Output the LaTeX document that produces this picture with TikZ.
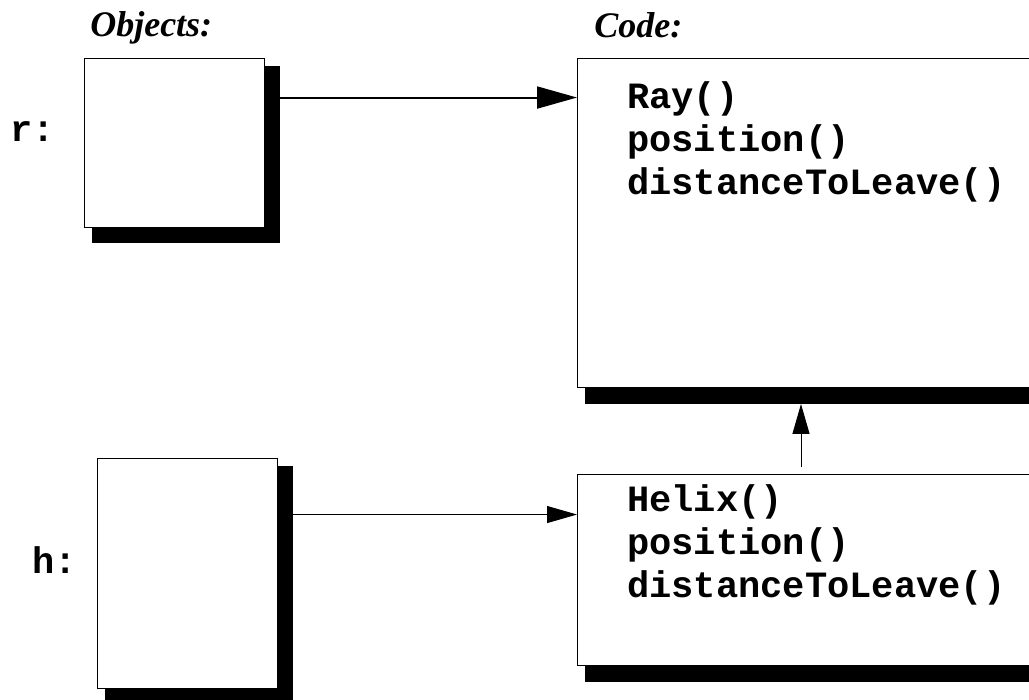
\documentclass[tikz,border=0pt]{standalone}
\usepackage{fontspec}
\setmainfont{Liberation Serif}
\setmonofont{Liberation Mono}
\usepackage{tikz}
\usetikzlibrary{arrows.meta,positioning,calc,backgrounds}
\tikzset{
  objbox/.style={draw=black,line width=0.7pt,fill=white,inner sep=0pt,minimum width=135pt},
  codebox/.style={draw=black,line width=0.7pt,fill=white,inner sep=0pt,anchor=north west,
    minimum width=362pt},
  codetext/.style={font=\fontsize{27.8}{32}\selectfont\ttfamily\bfseries,align=left,
    anchor=base west,inner sep=0pt},
  varlabel/.style={font=\fontsize{27.8}{32}\selectfont\ttfamily\bfseries,anchor=base west,inner sep=0pt},
  titlelabel/.style={font=\fontsize{27}{32}\selectfont\bfseries\itshape,anchor=base west,inner sep=0pt},
  boxshadow/.style={fill=black},
  linkarrow/.style={-{Triangle[length=30pt,width=16.5pt]},line width=1.5pt},
  thinarrow/.style={-{Triangle[length=22.5pt,width=12.75pt]},line width=0.75pt}
}

\begin{document}
\begin{tikzpicture}[x=0.75pt,y=-0.75pt]
  \useasboundingbox (0,0) rectangle (1029,700);
  % titles
  \node[titlelabel] (objtitle) at (90,36) {Objects:};
  \node[titlelabel] (codetitle) at (594,37) {Code:};
  % objects
  \node[varlabel] (rlabel) at (10,141) {r:};
  \node[varlabel] (hlabel) at (32,573) {h:};
  \node[objbox,minimum height=126.75pt] (objr) at (174,142.5) {};
  \node[objbox,minimum height=172.5pt] (objh) at (187,573) {};
  % code boxes
  \node[codebox,minimum height=246.75pt] (raycode) at (577,58) {};
  \node[codebox,minimum height=143.25pt] (helixcode) at (577,474) {};
  \node[codetext] (raytext) at (627,194) {Ray()\\position()\\distanceToLeave()};
  \node[codetext] (helixtext) at (627,597) {Helix()\\position()\\distanceToLeave()};
  % shadows
  \begin{scope}[on background layer]
    \foreach \b in {objr,objh,raycode,helixcode}
      \fill[boxshadow] ($(\b.north west)+(8,8)$) rectangle ($(\b.south east)+(16,16)$);
  \end{scope}
  % links
  \coordinate (rout) at ($(objr.north east)+(16,40)$);
  \coordinate (hout) at ($(objh.north east)+(16,57)$);
  \coordinate (helixup) at ($(helixcode.north west)+(224,-7)$);
  \coordinate (rayshadow) at ($(raycode.south)+(0,16)$);
  \draw[linkarrow] (rout) -- (rout -| raycode.west);
  \draw[thinarrow] (hout) -- (hout -| helixcode.west);
  \draw[thinarrow] (helixup) -- (helixup |- rayshadow);
\end{tikzpicture}
\end{document}
